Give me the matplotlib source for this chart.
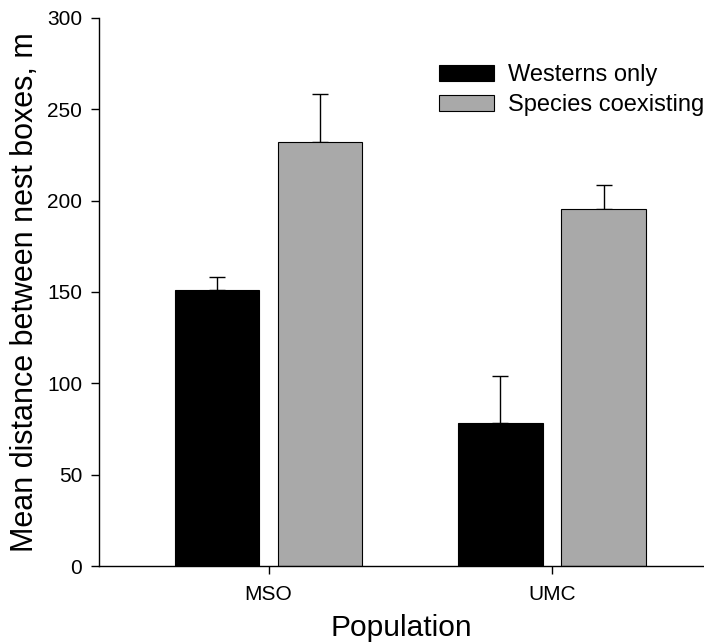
import matplotlib
matplotlib.use("Agg")
import matplotlib.pyplot as plt
import numpy as np

populations = ["MSO", "UMC"]
series_names = ["Westerns only", "Species coexisting"]
westerns_only = [151.3, 78.3]
westerns_err = [7.1, 25.7]
coexisting = [232.0, 195.5]
coexisting_err = [26.3, 13.1]
yticks = [0, 50, 100, 150, 200, 250, 300]

plt.rcParams['font.family'] = ['Liberation Sans', 'DejaVu Sans']

fig = plt.figure(figsize=(7.04, 6.44), dpi=100)
ax = fig.add_axes([99/704, 78/644, 1 - 99/704, 548/644])

x = np.arange(len(populations))
w = 0.298
off = 0.182
ax.bar(x - off, westerns_only, w, color='black', edgecolor='black', linewidth=0.8,
       label=series_names[0], zorder=2)
ax.bar(x + off, coexisting, w, color='#a9a9a9', edgecolor='black', linewidth=0.8,
       label=series_names[1], zorder=2)
ax.errorbar(x - off, westerns_only, yerr=[np.zeros(2), westerns_err], fmt='none',
            ecolor='black', elinewidth=1.0, capsize=5.5, capthick=1.0, zorder=1)
ax.errorbar(x + off, coexisting, yerr=[np.zeros(2), coexisting_err], fmt='none',
            ecolor='black', elinewidth=1.0, capsize=5.5, capthick=1.0, zorder=1)

ax.set_xlim(-0.598, 1.536)
ax.set_ylim(0, 300)
ax.set_yticks(yticks)
ax.set_xticks(x)
ax.set_xticklabels(populations)
ax.spines['top'].set_visible(False)
ax.spines['right'].set_visible(False)
for s in ['left', 'bottom']:
    ax.spines[s].set_linewidth(1.0)
ax.tick_params(axis='both', direction='out', length=6, width=1.0, labelsize=15)
ax.tick_params(axis='y', pad=6)
ax.tick_params(axis='x', pad=8)
ax.set_xlabel("Population", fontsize=21.5, labelpad=7)
ax.set_ylabel("Mean distance between nest boxes, m", fontsize=22, labelpad=5)

leg = ax.legend(loc='upper left', bbox_to_anchor=(439/704, 1 - 64/644),
                bbox_transform=fig.transFigure, frameon=False, fontsize=17,
                handlelength=2.33, handleheight=0.68, handletextpad=0.6,
                labelspacing=0.35, borderpad=0, borderaxespad=0)

fig.savefig("out.png", dpi=100)
